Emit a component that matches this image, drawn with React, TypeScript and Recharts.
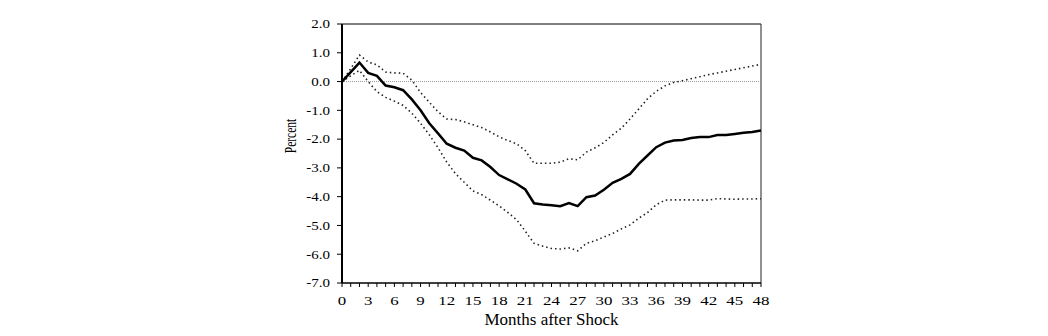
import { LineChart, Line, XAxis, YAxis, ReferenceLine, Label } from 'recharts';

const months = [
  0, 1, 2, 3, 4, 5, 6, 7, 8, 9, 10, 11, 12, 13, 14, 15, 16, 17, 18, 19, 20, 21, 22, 23, 24,
  25, 26, 27, 28, 29, 30, 31, 32, 33, 34, 35, 36, 37, 38, 39, 40, 41, 42, 43, 44, 45, 46, 47, 48,
];

const response = [
  0.0, 0.33, 0.66, 0.3, 0.2, -0.14, -0.2, -0.3, -0.62, -1.0, -1.45, -1.8, -2.16, -2.3, -2.4,
  -2.65, -2.74, -2.97, -3.25, -3.4, -3.55, -3.75, -4.23, -4.27, -4.3, -4.33, -4.22, -4.33,
  -4.02, -3.96, -3.76, -3.52, -3.38, -3.21, -2.86, -2.57, -2.28, -2.12, -2.05, -2.03, -1.96,
  -1.93, -1.93, -1.86, -1.86, -1.82, -1.78, -1.75, -1.7,
];

const upperBand = [
  0.0, 0.45, 0.92, 0.68, 0.58, 0.33, 0.3, 0.29, 0.05, -0.38, -0.72, -1.05, -1.3, -1.32, -1.4,
  -1.5, -1.6, -1.75, -1.92, -2.05, -2.16, -2.4, -2.84, -2.84, -2.84, -2.8, -2.68, -2.72,
  -2.45, -2.3, -2.12, -1.85, -1.62, -1.3, -0.95, -0.6, -0.34, -0.15, -0.03, 0.03, 0.1, 0.17,
  0.24, 0.3, 0.36, 0.42, 0.48, 0.54, 0.6,
];

const lowerBand = [
  0.0, 0.2, 0.39, 0.0, -0.35, -0.55, -0.68, -0.83, -1.1, -1.45, -1.85, -2.3, -2.8, -3.2, -3.5,
  -3.8, -3.93, -4.12, -4.32, -4.55, -4.8, -5.2, -5.62, -5.72, -5.8, -5.82, -5.78, -5.88,
  -5.62, -5.53, -5.4, -5.28, -5.12, -4.98, -4.75, -4.55, -4.28, -4.12, -4.11, -4.11, -4.11,
  -4.12, -4.12, -4.07, -4.08, -4.09, -4.08, -4.08, -4.07,
];

const yTicks = [-7, -6, -5, -4, -3, -2, -1, 0, 1, 2];

const data = months.map((m, i) => ({
  month: m,
  response: response[i],
  upper: upperBand[i],
  lower: lowerBand[i],
}));

const serif = '"Liberation Serif", "Times New Roman", serif';

// x labels only every 3rd month, minor tick lines stay
const XTick = (props: any) => {
  const { x, y, payload } = props;
  if (payload.value % 3 !== 0) return <g />;
  return (
    <text
      transform={`translate(${x},${y}) scale(1.3,1)`}
      textAnchor="middle"
      dy="0.71em"
      fontSize={13}
      fontFamily={serif}
      fill="#000"
    >
      {payload.value}
    </text>
  );
};

const YTick = (props: any) => {
  const { x, y, payload } = props;
  return (
    <text
      transform={`translate(${x},${y}) scale(1.25,1)`}
      textAnchor="end"
      dy="0.36em"
      fontSize={12}
      fontFamily={serif}
      fill="#000"
    >
      {Number(payload.value).toFixed(1)}
    </text>
  );
};

const PercentLabel = (props: any) => {
  const { viewBox } = props;
  const cx = viewBox.x + 8;
  const cy = viewBox.y + 112;
  return (
    <text
      transform={`translate(${cx},${cy}) scale(1.45,1) rotate(-90)`}
      textAnchor="middle"
      dy="0.35em"
      fontSize={11.5}
      fontFamily={serif}
      fill="#000"
    >
      Percent
    </text>
  );
};

const MonthsLabel = (props: any) => {
  const { viewBox } = props;
  return (
    <text
      x={viewBox.x + viewBox.width / 2}
      y={viewBox.y + 42}
      textAnchor="middle"
      fontSize={17}
      fontFamily={serif}
      fill="#000"
    >
      Months after Shock
    </text>
  );
};

export default function App() {
  return (
    <div style={{ width: 1032, height: 320, background: '#fff' }}>
      <LineChart
        width={1032}
        height={320}
        data={data}
        margin={{ top: 16, right: 279, bottom: 15, left: 274 }}
      >
        <XAxis
          dataKey="month"
          type="number"
          domain={[0, 48]}
          ticks={months}
          interval={0}
          tick={<XTick />}
          tickSize={4}
          tickMargin={9}
          height={30}
          axisLine={{ stroke: '#000', strokeWidth: 1.5 }}
          tickLine={{ stroke: '#000' }}
        >
          <Label content={<MonthsLabel />} />
        </XAxis>
        <YAxis
          type="number"
          domain={[-7, 2]}
          ticks={yTicks}
          interval={0}
          tick={<YTick />}
          tickSize={5}
          tickMargin={7}
          width={60}
          axisLine={{ stroke: '#000', strokeWidth: 2 }}
          tickLine={{ stroke: '#000' }}
        >
          <Label content={<PercentLabel />} />
        </YAxis>
        <ReferenceLine y={2} stroke="#000" strokeWidth={1} />
        <ReferenceLine x={48} stroke="#222" strokeWidth={1} />
        <ReferenceLine y={0} stroke="#999" strokeWidth={1} strokeDasharray="1 1" />
        <Line
          dataKey="upper"
          type="linear"
          stroke="#222"
          strokeWidth={1.6}
          strokeDasharray="1.5 3"
          dot={false}
          isAnimationActive={false}
        />
        <Line
          dataKey="lower"
          type="linear"
          stroke="#222"
          strokeWidth={1.6}
          strokeDasharray="1.5 3"
          dot={false}
          isAnimationActive={false}
        />
        <Line
          dataKey="response"
          type="linear"
          stroke="#000"
          strokeWidth={2.5}
          dot={false}
          isAnimationActive={false}
        />
      </LineChart>
    </div>
  );
}
